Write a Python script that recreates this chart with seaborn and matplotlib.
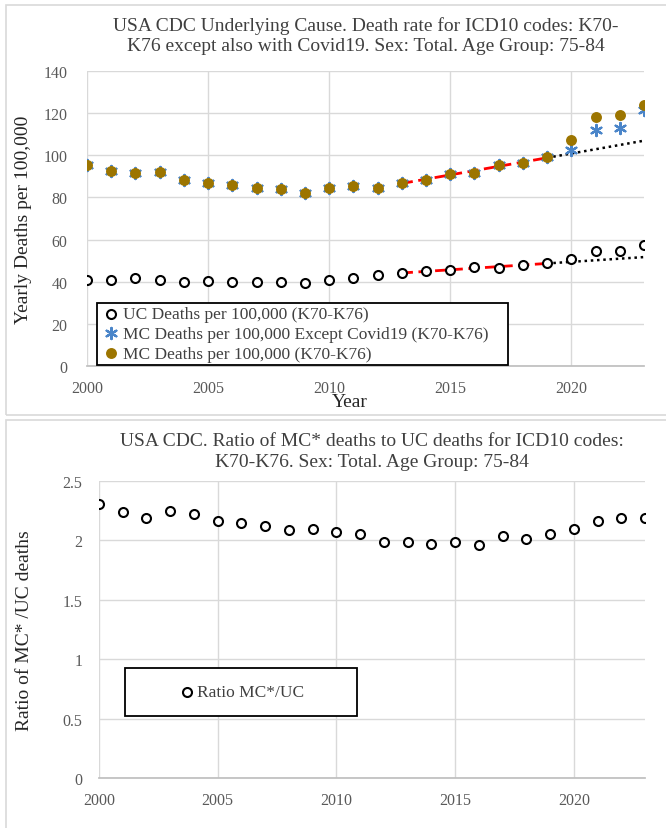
import numpy as np
import pandas as pd
import seaborn as sns
from matplotlib import pyplot as plt
from matplotlib.patches import Rectangle
from matplotlib.ticker import FuncFormatter

years = list(range(2000, 2024))

# UC deaths per 100,000 (K70-K76)
uc_rate = [41.0, 41.0, 41.6, 40.7, 40.0, 40.5, 40.0, 40.0, 40.0, 39.3, 40.8, 41.6,
           43.0, 44.1, 45.0, 45.6, 46.9, 46.4, 48.1, 48.8, 50.6, 54.7, 54.7, 57.5]
# MC deaths per 100,000 except Covid19
mc_except_rate = [95.3, 92.5, 91.6, 92.0, 88.4, 87.0, 85.9, 84.4, 84.1, 82.2, 84.4, 85.2,
                  84.7, 87.0, 88.4, 91.2, 91.7, 95.2, 96.2, 99.4, 102.7, 111.9, 112.8, 121.4]
# MC deaths per 100,000 (all)
mc_rate = [95.3, 92.5, 91.6, 92.0, 88.4, 87.0, 85.9, 84.4, 84.1, 82.2, 84.4, 85.2,
           84.7, 87.0, 88.4, 91.2, 91.7, 95.2, 96.2, 99.4, 107.2, 118.0, 118.9, 123.8]
# ratio MC*/UC
ratio = [2.31, 2.24, 2.19, 2.25, 2.22, 2.16, 2.15, 2.12, 2.09, 2.10, 2.07, 2.05,
         1.99, 1.99, 1.97, 1.99, 1.96, 2.04, 2.01, 2.05, 2.10, 2.16, 2.19, 2.19]

fit_start, fit_end, proj_end = 2013, 2019, 2023

df = pd.DataFrame({'Year': years, 'UC': uc_rate, 'MCx': mc_except_rate,
                   'MC': mc_rate, 'Ratio': ratio})

sns.set_theme(style='white')
plt.rcParams['font.family'] = ['Liberation Serif', 'DejaVu Serif']

GRID = '#D9D9D9'
TICK = '#595959'
GOLD = '#9C7500'
BLUE = '#4A85C9'

fig = plt.figure(figsize=(6.66, 8.29), dpi=100)

# panel frames (Excel chart areas)
for y0, y1 in [(6, 416), (421, 835)]:
    fig.patches.append(Rectangle((6 / 666, 1 - y1 / 829), 670 / 666, (y1 - y0) / 829,
                                 transform=fig.transFigure, fill=False,
                                 edgecolor=GRID, lw=1.2))


def style_axes(ax, ypad):
    ax.grid(True, color=GRID, lw=1)
    ax.set_axisbelow(True)
    for s in ['top', 'right', 'left']:
        ax.spines[s].set_visible(False)
    ax.spines['bottom'].set_color('#BFBFBF')
    ax.tick_params(length=0, labelsize=11.5, colors=TICK)
    ax.tick_params(axis='x', pad=10)
    ax.tick_params(axis='y', pad=ypad)
    ax.set_xlim(2000, 2023)
    ax.set_xticks([2000, 2005, 2010, 2015, 2020])


def trend(ax, col):
    # linear trend fitted on 2013-2019, projected to 2023
    part = df[(df.Year >= fit_start) & (df.Year <= fit_end)]
    k, b = np.polyfit(part.Year, part[col], 1)
    x1 = np.array([fit_start, fit_end])
    x2 = np.array([fit_end, proj_end])
    sns.lineplot(x=x1, y=k * x1 + b, ax=ax, color='red', lw=2,
                 linestyle=(0, (4, 2)), zorder=3)
    sns.lineplot(x=x2, y=k * x2 + b, ax=ax, color='black', lw=1.8,
                 linestyle=(0, (1, 1.5)), zorder=3)


# ---- top chart
ax1 = fig.add_axes([87 / 666, 1 - 367 / 829, 557 / 666, 295 / 829])
style_axes(ax1, 14)
ax1.set_ylim(0, 140)
ax1.set_yticks(range(0, 141, 20))
trend(ax1, 'UC')
trend(ax1, 'MC')
sns.scatterplot(data=df, x='Year', y='UC', ax=ax1, marker='o', s=42,
                facecolor='white', edgecolor='black', linewidth=1.5, zorder=4,
                label='UC Deaths per 100,000 (K70-K76)')
sns.scatterplot(data=df, x='Year', y='MCx', ax=ax1, marker=(6, 2, 0), s=65,
                color=BLUE, edgecolor=BLUE, linewidth=1.6, zorder=4,
                label='MC Deaths per 100,000 Except Covid19 (K70-K76)')
sns.scatterplot(data=df, x='Year', y='MC', ax=ax1, marker='o', s=62,
                color=GOLD, edgecolor=GOLD, linewidth=0, zorder=5,
                label='MC Deaths per 100,000 (K70-K76)')
ax1.set_xlabel('Year', fontsize=14, color='#262626', va='top')
ax1.xaxis.set_label_coords(0.472, -0.093)
ax1.set_ylabel('Yearly Deaths per 100,000', fontsize=14, color='#262626')
ax1.yaxis.set_label_coords(-0.098, 0.5)
ax1.set_title('USA CDC Underlying Cause. Death rate for ICD10 codes: K70-\n'
              'K76 except also with Covid19. Sex: Total. Age Group: 75-84',
              fontsize=14, color='#404040', pad=15, linespacing=1.25)
leg = ax1.legend(loc='lower left', bbox_to_anchor=(0.018, 0.003, 0.738, 0.2),
                 mode='expand', fontsize=12.5, frameon=True, fancybox=False,
                 edgecolor='black', framealpha=1, borderpad=0.2,
                 handletextpad=0.1, labelspacing=0.2, borderaxespad=0,
                 handlelength=1.2)
leg.get_frame().set_linewidth(1.3)
for t in leg.get_texts():
    t.set_color('#404040')

# ---- bottom chart
ax2 = fig.add_axes([99 / 666, 1 - 779 / 829, 546 / 666, 297 / 829])
style_axes(ax2, 12)
ax2.set_ylim(0, 2.5)
ax2.set_yticks([0, 0.5, 1, 1.5, 2, 2.5])
ax2.yaxis.set_major_formatter(FuncFormatter(lambda v, p: f'{v:g}'))
sns.scatterplot(data=df, x='Year', y='Ratio', ax=ax2, marker='o', s=42,
                facecolor='white', edgecolor='black', linewidth=1.5, zorder=4,
                label='Ratio MC*/UC')
ax2.set_xlabel('')
ax2.set_ylabel('Ratio of MC* /UC deaths', fontsize=14, color='#262626')
ax2.yaxis.set_label_coords(-0.12, 0.5)
ax2.set_title('USA CDC. Ratio of MC* deaths to UC deaths for ICD10 codes:\n'
              'K70-K76. Sex: Total. Age Group: 75-84',
              fontsize=14, color='#404040', pad=11, linespacing=1.25)
ax2.add_patch(Rectangle((0.0476, 0.209), 0.425, 0.161, transform=ax2.transAxes,
                        fill=True, facecolor='white', edgecolor='black', lw=1.3,
                        zorder=5))
leg2 = ax2.legend(loc='center', bbox_to_anchor=(0.26, 0.2895), fontsize=12.5,
                  frameon=False, handletextpad=0.1, handlelength=1.0)
leg2.set_zorder(6)
for t in leg2.get_texts():
    t.set_color('#404040')

fig.savefig('out.png', dpi=100)
